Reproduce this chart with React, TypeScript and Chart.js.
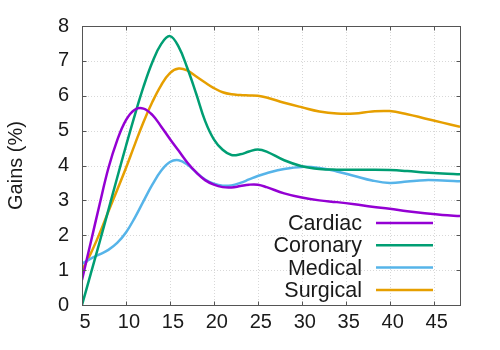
import React, { useEffect, useRef } from "react";
import { Chart, registerables } from "chart.js";

Chart.register(...registerables);

const xValues = [5, 6, 7, 8, 9, 10, 11, 12, 13, 14, 15, 16, 17, 18, 19, 20, 21, 22, 23, 24, 25, 26, 28, 30, 32, 34, 36, 38, 40, 42, 44, 46, 48];
const cardiac = [0.72, 1.8, 2.88, 3.92, 4.72, 5.3, 5.6, 5.63, 5.45, 5.12, 4.76, 4.42, 4.08, 3.8, 3.58, 3.45, 3.38, 3.37, 3.41, 3.45, 3.45, 3.38, 3.2, 3.08, 3.0, 2.95, 2.89, 2.82, 2.76, 2.69, 2.63, 2.58, 2.55];
const coronary = [0, 0.9, 1.8, 2.72, 3.65, 4.56, 5.44, 6.26, 6.96, 7.48, 7.71, 7.4, 6.78, 6.05, 5.28, 4.75, 4.45, 4.3, 4.32, 4.4, 4.46, 4.4, 4.15, 3.98, 3.9, 3.88, 3.88, 3.88, 3.87, 3.84, 3.8, 3.77, 3.75];
const medical = [1.18, 1.33, 1.45, 1.58, 1.78, 2.08, 2.5, 2.98, 3.45, 3.85, 4.1, 4.15, 4.02, 3.8, 3.6, 3.48, 3.42, 3.43, 3.5, 3.6, 3.7, 3.78, 3.9, 3.96, 3.93, 3.83, 3.7, 3.57, 3.5, 3.54, 3.58, 3.57, 3.55];
const surgical = [1.0, 1.48, 2.05, 2.68, 3.3, 3.93, 4.6, 5.25, 5.82, 6.3, 6.65, 6.78, 6.72, 6.55, 6.38, 6.22, 6.1, 6.04, 6.02, 6.01, 6.0, 5.95, 5.8, 5.67, 5.55, 5.49, 5.49, 5.55, 5.56, 5.47, 5.35, 5.23, 5.11];

const seriesNames = ["Cardiac", "Coronary", "Medical", "Surgical"];
const seriesColors = ["#9400d3", "#009e73", "#56b4e9", "#e69f00"];
const xTicks = [5, 10, 15, 20, 25, 30, 35, 40, 45];
const yTicks = [0, 1, 2, 3, 4, 5, 6, 7, 8];
const yTitle = "Gains (%)";

const FONT = "'Liberation Sans', Arial, Helvetica, sans-serif";

const framePlugin = {
  id: "gnuFrame",
  beforeDatasetsDraw(chart: any) {
    const { ctx, chartArea: a, scales } = chart;
    ctx.save();
    ctx.strokeStyle = "#d8d8d8";
    ctx.lineWidth = 1;
    ctx.setLineDash([1, 2]);
    xTicks.forEach((v) => {
      const px = Math.round(scales.x.getPixelForValue(v)) + 0.5;
      if (px <= a.left + 1 || px >= a.right - 1) return;
      ctx.beginPath();
      ctx.moveTo(px, a.top);
      ctx.lineTo(px, a.bottom);
      ctx.stroke();
    });
    yTicks.forEach((v) => {
      const py = Math.round(scales.y.getPixelForValue(v)) + 0.5;
      if (py <= a.top + 1 || py >= a.bottom - 1) return;
      ctx.beginPath();
      ctx.moveTo(a.left, py);
      ctx.lineTo(a.right, py);
      ctx.stroke();
    });
    ctx.restore();
  },
  afterDatasetsDraw(chart: any) {
    const { ctx, chartArea: a, scales } = chart;
    ctx.save();
    ctx.strokeStyle = "#555555";
    ctx.lineWidth = 1;
    ctx.setLineDash([]);
    const L = Math.round(a.left) + 0.5;
    const R = Math.round(a.right) + 0.5;
    const T = Math.round(a.top) + 0.5;
    const B = Math.round(a.bottom) + 0.5;
    ctx.strokeRect(L, T, R - L, B - T);
    const tl = 4;
    ctx.beginPath();
    xTicks.forEach((v) => {
      const px = Math.round(scales.x.getPixelForValue(v)) + 0.5;
      ctx.moveTo(px, B);
      ctx.lineTo(px, B - tl);
      ctx.moveTo(px, T);
      ctx.lineTo(px, T + tl);
    });
    yTicks.forEach((v) => {
      const py = Math.round(scales.y.getPixelForValue(v)) + 0.5;
      ctx.moveTo(L, py);
      ctx.lineTo(L + tl, py);
      ctx.moveTo(R, py);
      ctx.lineTo(R - tl, py);
    });
    ctx.stroke();

    // key (gnuplot style: text then line sample)
    ctx.font = `21.5px ${FONT}`;
    ctx.textAlign = "right";
    ctx.textBaseline = "middle";
    const textRight = a.right - 98;
    const lineStart = a.right - 84;
    const lineEnd = a.right - 27;
    const firstY = a.bottom - 82;
    const rowH = 22.3;
    chart.data.datasets.forEach((ds: any, i: number) => {
      const y = firstY + i * rowH;
      ctx.fillStyle = "#1a1a1a";
      ctx.fillText(ds.label, textRight, y + 1);
      ctx.strokeStyle = ds.borderColor;
      ctx.lineWidth = 2.5;
      ctx.beginPath();
      ctx.moveTo(lineStart, y);
      ctx.lineTo(lineEnd, y);
      ctx.stroke();
    });
    ctx.restore();
  },
};

export default function App() {
  const canvasRef = useRef<HTMLCanvasElement | null>(null);

  useEffect(() => {
    if (!canvasRef.current) return;
    const allSeries = [cardiac, coronary, medical, surgical];
    const chart = new Chart(canvasRef.current, {
      type: "line",
      data: {
        datasets: allSeries.map((vals, i) => ({
          label: seriesNames[i],
          data: xValues.map((x, j) => ({ x, y: vals[j] })),
          borderColor: seriesColors[i],
          backgroundColor: seriesColors[i],
          borderWidth: 2.5,
          pointRadius: 0,
          fill: false,
          tension: 0.4,
        })),
      },
      options: {
        responsive: false,
        animation: false,
        layout: { padding: { top: 26, right: 40, left: 0, bottom: 0 } },
        plugins: { legend: { display: false }, tooltip: { enabled: false } },
        scales: {
          x: {
            type: "linear",
            min: 5,
            max: 48,
            grid: { display: false, drawTicks: false },
            border: { display: false },
            afterBuildTicks: (scale: any) => {
              scale.ticks = xTicks.map((v) => ({ value: v }));
            },
            afterFit: (scale: any) => {
              scale.height = 45;
            },
            ticks: {
              color: "#1a1a1a",
              font: { family: FONT, size: 20 },
              padding: 5,
              labelOffset: 3,
              maxRotation: 0,
              autoSkip: false,
              callback: (v: any) => String(v),
            },
          },
          y: {
            type: "linear",
            min: 0,
            max: 8,
            grid: { display: false, drawTicks: false },
            border: { display: false },
            afterBuildTicks: (scale: any) => {
              scale.ticks = yTicks.map((v) => ({ value: v }));
            },
            afterFit: (scale: any) => {
              scale.width = 82;
            },
            ticks: {
              color: "#1a1a1a",
              font: { family: FONT, size: 20 },
              padding: 13,
              callback: (v: any) => String(v),
            },
            title: {
              display: true,
              text: yTitle,
              color: "#1a1a1a",
              font: { family: FONT, size: 20 },
              padding: { top: 4, bottom: 0 },
            },
          },
        },
      },
      plugins: [framePlugin],
    });
    return () => chart.destroy();
  }, []);

  return (
    <div style={{ position: "fixed", left: 0, top: 0, width: 500, height: 350, background: "#fff" }}>
      <canvas ref={canvasRef} width={500} height={350} style={{ display: "block" }} />
    </div>
  );
}
